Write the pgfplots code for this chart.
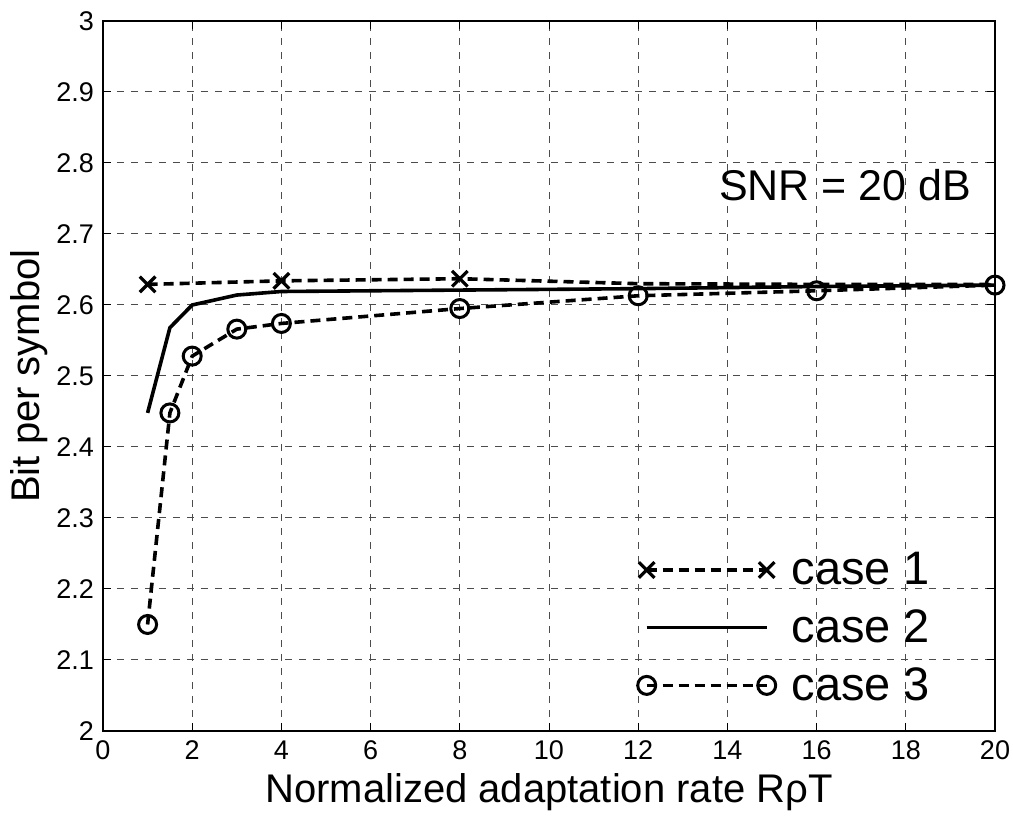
\documentclass[border=0pt]{standalone}
\usepackage{fontspec}
\setmainfont{Liberation Sans}
\usepackage{pgfplots}
\pgfplotsset{compat=1.18}
\begin{document}
\begin{tikzpicture}
\begin{axis}[
  name=main,
  scale only axis,
  width=446pt, height=355pt,
  xmin=0, xmax=20, ymin=2, ymax=3,
  xtick={0,2,4,6,8,10,12,14,16,18,20},
  ytick={2,2.1,2.2,2.3,2.4,2.5,2.6,2.7,2.8,2.9,3},
  yticklabels={2,2.1,2.2,2.3,2.4,2.5,2.6,2.7,2.8,2.9,3},
  /pgf/number format/assume math mode=true,
  tick label style={font=\fontsize{13.5}{16}\selectfont},
  xticklabel style={yshift=-1.5pt},
  yticklabel style={xshift=-1pt},
  tick align=inside, major tick length=4pt,
  tick style={black, line width=0.5pt},
  grid=major,
  major grid style={black!70, line width=0.5pt, dash pattern=on 3.5pt off 3.5pt},
  axis line style={line width=0.8pt},
  xlabel={Normalized adaptation rate RρT},
  ylabel={Bit per symbol},
  label style={font=\fontsize{20}{24}\selectfont},
  xlabel style={at={(axis description cs:0.5,-0.086)}, anchor=center},
  ylabel style={at={(axis description cs:-0.083,0.5)}, anchor=center},
  legend style={at={(rel axis cs:0.599,0.255)}, anchor=north west, draw=none, fill=none,
    font=\fontsize{23.5}{28}\selectfont, inner sep=0pt, row sep=9pt, column sep=7pt,
    nodes={inner sep=1pt}},
  legend cell align=left,
  legend image code/.code={\draw[#1] plot coordinates {(0pt,0pt) (60pt,0pt)};},
]
\addplot[black, line width=1.8pt, dash pattern=on 5pt off 3pt, mark=x, mark size=5.5pt,
  mark options={solid, line width=1.6pt}, mark indices={1,2,3}]
  coordinates {(1,2.629) (4,2.634) (8,2.637) (12,2.630) (16,2.629) (20,2.629)};
\addlegendentry{case 1}
\addplot[black, line width=1.8pt, solid, mark=none]
  coordinates {(1,2.448) (1.5,2.568) (2,2.600) (3,2.614) (4,2.619) (8,2.621) (12,2.623) (16,2.626) (20,2.628)};
\addlegendentry{case 2}
\addplot[black, line width=1.8pt, dash pattern=on 5pt off 3pt, mark=o, mark size=4.5pt,
  mark options={solid, line width=1.5pt}]
  coordinates {(1,2.150) (1.5,2.448) (2,2.528) (3,2.566) (4,2.574) (8,2.595) (12,2.613) (16,2.620) (20,2.628)};
\addlegendentry{case 3}
\node[font=\fontsize{21.5}{26}\selectfont] at (axis cs:16.64,2.769) {SNR = 20 dB};
\end{axis}
\pgfresetboundingbox
\path[use as bounding box] ([xshift=-51.5pt,yshift=-45.5pt]main.south west) rectangle ([xshift=9pt,yshift=10.5pt]main.north east);
\end{tikzpicture}
\end{document}
